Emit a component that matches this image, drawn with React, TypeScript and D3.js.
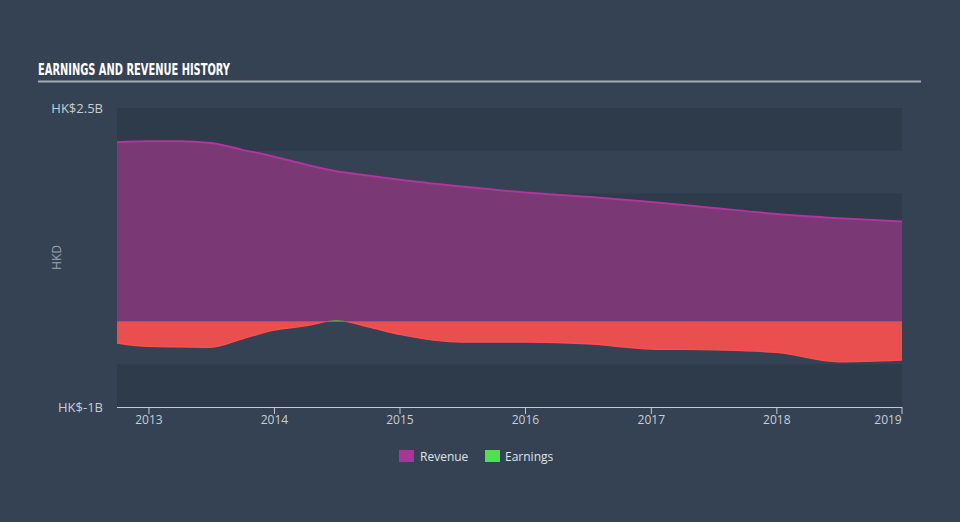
import React from "react";
import * as d3 from "d3";

const dates = [
  "2012-09-30", "2012-12-31", "2013-03-31", "2013-06-30", "2013-09-30", "2013-12-31",
  "2014-03-31", "2014-06-30", "2014-09-30", "2014-12-31", "2015-06-30", "2015-12-31",
  "2016-06-30", "2016-12-31", "2017-06-30", "2017-12-31", "2018-06-30", "2018-12-31",
];
const revenue = [
  2.10, 2.11, 2.11, 2.09, 2.01, 1.93, 1.84, 1.76, 1.71, 1.66, 1.58, 1.51,
  1.46, 1.40, 1.33, 1.26, 1.21, 1.17,
];
const earnings = [
  -0.25, -0.29, -0.295, -0.30, -0.20, -0.10, -0.05, 0.015, -0.06, -0.15, -0.24, -0.24,
  -0.26, -0.32, -0.33, -0.36, -0.47, -0.45,
];
const yTickLabels = ["HK$2.5B", "HK$-1B"];
const yTickValues = [2.5, -1];
const xTickYears = [2013, 2014, 2015, 2016, 2017, 2018, 2019];

const W = 960, H = 522;
const L = 117, R = 902, T = 108, B = 407;

export default function App() {
  const parse = d3.timeParse("%Y-%m-%d");
  const pts = dates.map((d, i) => ({ t: parse(d) as Date, r: revenue[i], e: earnings[i] }));
  const x = d3.scaleTime().domain([parse("2012-09-30") as Date, parse("2018-12-31") as Date]).range([L, R]);
  const y = d3.scaleLinear().domain([-1, 2.5]).range([B, T]);
  const curve = d3.curveMonotoneX;
  const revArea = d3.area<any>().x(d => x(d.t)).y0(y(0)).y1(d => y(d.r)).curve(curve)(pts) || "";
  const revLine = d3.line<any>().x(d => x(d.t)).y(d => y(d.r)).curve(curve)(pts) || "";
  const earnArea = d3.area<any>().x(d => x(d.t)).y0(y(0)).y1(d => y(d.e)).curve(curve)(pts) || "";
  const earnLine = d3.line<any>().x(d => x(d.t)).y(d => y(d.e)).curve(curve)(pts) || "";
  const bands = d3.range(-1, 2.5, 0.5);
  const z = y(0);

  return (
    <svg width={W} height={H} style={{ position: "absolute", left: 0, top: 0 }}>
      <defs>
        <clipPath id="neg"><rect x={L} y={z} width={R - L} height={B - z} /></clipPath>
        <clipPath id="pos"><rect x={L} y={T} width={R - L} height={z - T} /></clipPath>
      </defs>
      <rect width={W} height={H} fill="#344253" />
      <text x={38} y={75} fill="#ffffff" fontFamily="'DejaVu Sans Condensed', 'DejaVu Sans'" fontWeight="bold"
        fontSize={15} textLength={192} lengthAdjust="spacingAndGlyphs">EARNINGS AND REVENUE HISTORY</text>
      <line x1={38} x2={921} y1={81.5} y2={81.5} stroke="#a3abb5" strokeWidth={2} />
      {bands.map((b, i) => (
        <rect key={i} x={L} width={R - L} y={y(b + 0.5)} height={y(b) - y(b + 0.5)}
          fill={i % 2 === 0 ? "#2e3b4a" : "#344253"} />
      ))}
      <path d={revArea} fill="#7a3874" />
      <path d={revLine} fill="none" stroke="#b0359c" strokeWidth={2} />
      <g clipPath="url(#neg)">
        <path d={earnArea} fill="#ea4f50" />
        <path d={earnLine} fill="none" stroke="#ff4d4d" strokeWidth={1.5} />
      </g>
      <g clipPath="url(#pos)">
        <path d={earnArea} fill="#5cbf4c" />
      </g>
      <line x1={L} x2={R} y1={z} y2={z} stroke="#8f6a7e" strokeWidth={1} opacity={0.6} />
      {yTickValues.map((v, i) => (
        <text key={i} x={103} y={y(v) + 5} textAnchor="end" fill="#c9ced4"
          fontFamily="'Open Sans', sans-serif" fontSize={13}>{yTickLabels[i]}</text>
      ))}
      <text transform={`translate(61,${(T + B) / 2}) rotate(-90)`} textAnchor="middle" fill="#9aa3ad"
        fontFamily="'Open Sans', sans-serif" fontSize={12}>HKD</text>
      <line x1={L} x2={R} y1={B + 0.5} y2={B + 0.5} stroke="#c4cad1" strokeWidth={1} />
      {xTickYears.map(yr => {
        const xx = Math.min(x(new Date(yr, 0, 1)), R);
        return (
          <g key={yr}>
            <line x1={xx} x2={xx} y1={B} y2={B + 7} stroke="#c4cad1" />
            <text x={yr === 2019 ? xx - 14 : xx} y={424} textAnchor="middle" fill="#c9ced4"
              fontFamily="'Open Sans', sans-serif" fontSize={12}>{yr}</text>
          </g>
        );
      })}
      <rect x={399} y={450} width={15} height={12} fill="#a8359a" />
      <text x={420} y={461} fill="#dfe3e8" fontFamily="'Open Sans', sans-serif" fontSize={12}>Revenue</text>
      <rect x={485} y={450} width={15} height={12} fill="#4fe04f" />
      <text x={505} y={461} fill="#dfe3e8" fontFamily="'Open Sans', sans-serif" fontSize={12}>Earnings</text>
    </svg>
  );
}
